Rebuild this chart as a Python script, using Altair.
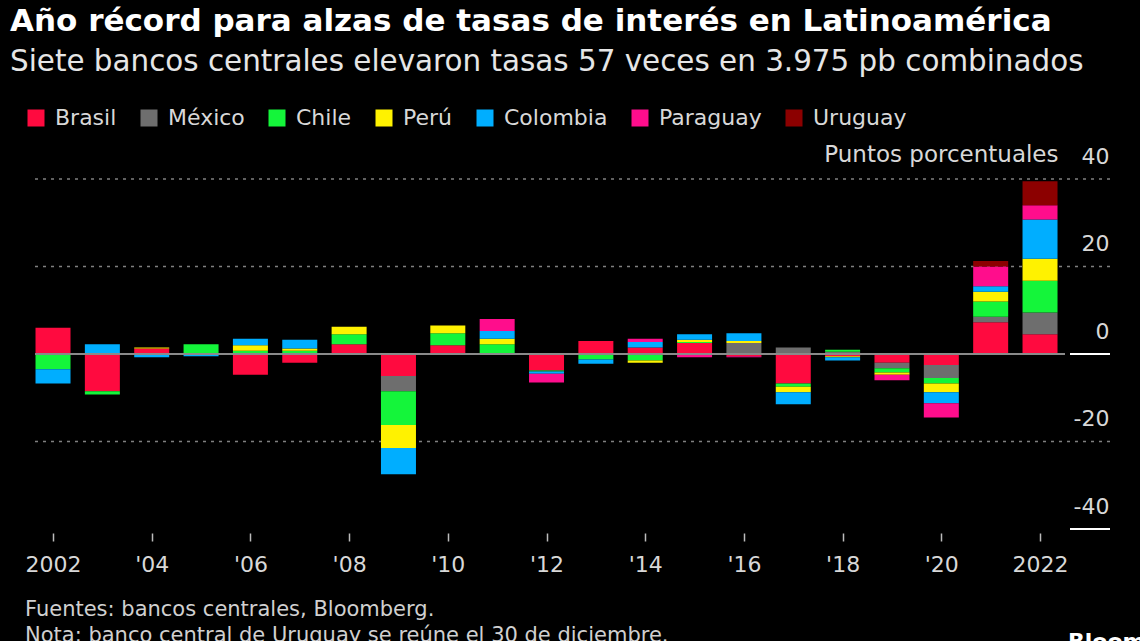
import altair as alt
import pandas as pd

# ---------------- data ----------------
years = list(range(2002, 2023))
countries = ["Brasil", "México", "Chile", "Perú", "Colombia", "Paraguay", "Uruguay"]
colors = ["#ff0a3f", "#6e6e6e", "#14f53a", "#fff200", "#00aeff", "#ff0d8c", "#8c0000"]

brasil   = [6.0, -8.5, 1.25, 0, -4.75, -2.0, 2.25, -5.0, 2.0, 0.25, -3.75, 3.0, 1.5, 2.5, -0.5, -6.75, -0.5, -2.0, -2.5, 7.25, 4.5]
mexico   = [0, 0, 0, 0, 0, 0, 0, -3.5, 0, 0, 0, 0, 0, 0, 2.5, 1.5, 0.5, -1.25, -3.0, 1.25, 5.0]
chile    = [-3.5, -0.75, 0, 2.25, 0.75, 0.75, 2.25, -7.75, 2.75, 2.0, -0.25, -1.25, -1.5, 0.25, 0, -0.75, 0.5, -1.0, -1.25, 3.5, 7.25]
peru     = [0, 0.25, 0.25, 0, 1.25, 0.5, 1.75, -5.25, 1.75, 1.25, 0, 0, -0.5, 0.5, 0.5, -1.25, -0.25, -0.5, -2.0, 2.25, 5.0]
colombia = [-3.25, 2.0, -0.75, -0.5, 1.5, 2.0, 0, -6.0, -0.25, 1.75, -0.5, -1.0, 1.25, 1.25, 1.75, -2.75, -0.75, 0, -2.5, 1.25, 9.0]
paraguay = [0, 0, 0, 0, 0, 0, 0, 0, 0, 2.75, -2.0, 0, 0.75, -0.75, -0.25, 0, 0, -1.25, -3.25, 4.5, 3.25]
uruguay  = [0, 0, 0, 0, 0, 0, 0, 0, 0, 0, 0, 0, 0, 0, 0, 0, 0, 0, 0, 1.25, 5.5]
series = [brasil, mexico, chile, peru, colombia, paraguay, uruguay]

xtick_years = [2002, 2004, 2006, 2008, 2010, 2012, 2014, 2016, 2018, 2020, 2022]
xtick_labels = ["2002", "'04", "'06", "'08", "'10", "'12", "'14", "'16", "'18", "'20", "2022"]
ytick_values = [-40, -20, 0, 20, 40]
grid_values = [40, 20, -20]
zero_values = [0]
edge_values = [0, -40]

title_text = "Año récord para alzas de tasas de interés en Latinoamérica"
subtitle_text = "Siete bancos centrales elevaron tasas 57 veces en 3.975 pb combinados"
source_text = "Fuentes: bancos centrales, Bloomberg."
note_text = "Nota: banco central de Uruguay se reúne el 30 de diciembre."
logo_text = "Bloomberg"
y_title = "Puntos porcentuales"

FONT = "DejaVu Sans"

rows = []
for i, (c, vals) in enumerate(zip(countries, series)):
    for y, v in zip(years, vals):
        if v != 0:
            rows.append({"year": y, "country": c, "value": v, "idx": i})
df = pd.DataFrame(rows)

label_expr = ""
for yv, lab in zip(xtick_years, xtick_labels):
    label_expr += f"datum.value == {yv} ? \"{lab}\" : "
label_expr += "''"

W, H = 1075, 350
xscale = alt.Scale(domain=[2001.635, 2023.418], nice=False, zero=False, padding=0)
yscale = alt.Scale(domain=[-40, 40], nice=False)

yaxis = alt.Axis(orient="right", values=ytick_values, grid=False, domain=False,
                 ticks=False, tickSize=0, labelAlign="right", labelPadding=-1,
                 labelBaseline="alphabetic", labelOffset=-16,
                 labelExpr="datum.value < 0 ? '-' + abs(datum.value) : '' + datum.value",
                 labelFontSize=22, labelColor="#d8d8d8", labelFont=FONT,
                 title=y_title, titleAngle=0, titleAlign="right", titleBaseline="middle",
                 titleX=-52, titleY=-25, titleFontSize=23, titleFontWeight="normal",
                 titleColor="#d8d8d8", titleFont=FONT)

def ychan(field):
    return alt.Y(field, scale=yscale, axis=yaxis, title=y_title)

grid = alt.Chart(pd.DataFrame({"v": grid_values})).mark_rule(
    color="#808080", strokeDash=[3, 5], strokeWidth=1.5
).encode(y=ychan("v:Q"))

bars = alt.Chart(df).mark_bar(size=35).encode(
    x=alt.X("year:Q", scale=xscale, title=None,
            axis=alt.Axis(values=xtick_years, labelExpr=label_expr, grid=False, domain=False,
                          tickSize=8, tickColor="#bbbbbb", tickWidth=1.5, offset=4,
                          labelPadding=13, labelFontSize=22, labelColor="#d8d8d8",
                          labelFont=FONT)),
    y=alt.Y("value:Q", scale=yscale, stack="zero", axis=yaxis, title=y_title),
    color=alt.Color("country:N", scale=alt.Scale(domain=countries, range=colors),
                    legend=alt.Legend(title=None, orient="none", direction="horizontal",
                                      legendX=-10, legendY=-72, symbolType="square",
                                      symbolSize=289, symbolStrokeWidth=0,
                                      labelFontSize=22, labelColor="#d8d8d8", labelFont=FONT,
                                      labelOffset=8, columnPadding=21, columns=7)),
    order=alt.Order("idx:Q", sort="ascending"),
)

zero = alt.Chart(pd.DataFrame({"v": zero_values})).mark_rule(
    color="#8a8a8a", strokeWidth=2
).encode(y=ychan("v:Q"), x=alt.value(0), x2=alt.value(1030))

edges = alt.Chart(pd.DataFrame({"v": edge_values})).mark_rule(
    color="#ffffff", strokeWidth=2
).encode(y=ychan("v:Q"), x=alt.value(1035), x2=alt.value(1075))

def txt(text, x, y, size, color="#e0e0e0", weight="normal", baseline="middle"):
    return alt.Chart(pd.DataFrame({"t": [text]})).mark_text(
        align="left", baseline=baseline, fontSize=size, font=FONT, fontWeight=weight, color=color
    ).encode(text="t:N", x=alt.value(x), y=alt.value(y))

texts = [
    txt(title_text, -25, -157, 31, "#ffffff", "bold"),
    txt(subtitle_text, -25, -117, 29.4, "#e6e6e6"),
    txt(source_text, -10, 431, 21, "#d0d0d0"),
    txt(note_text, -10, 457, 21, "#d0d0d0"),
    txt(logo_text, 1033, 453, 22, "#ffffff", "bold", "top"),
]

chart = alt.layer(grid, bars, zero, edges, *texts).properties(
    width=W, height=H, background="#000000",
    padding={"left": 35, "top": 179, "right": 30, "bottom": 112},
    autosize=alt.AutoSizeParams(type="none"),
).configure_view(stroke=None)

chart.save("out.html", embed_options={"renderer": "svg", "actions": False})
